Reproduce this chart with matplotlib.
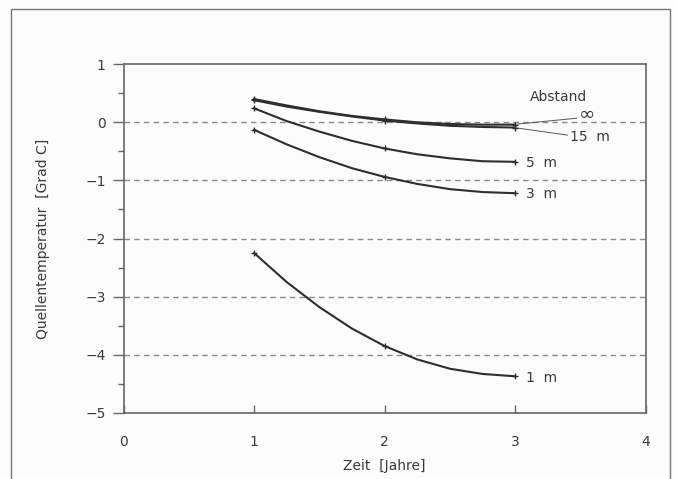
import numpy as np
import matplotlib
matplotlib.use('Agg')
import matplotlib.pyplot as plt
from matplotlib.patches import Rectangle

# Zeit in Jahren (Ablesepunkte)
years = [1.0, 1.25, 1.5, 1.75, 2.0, 2.25, 2.5, 2.75, 3.0]

# Quellentemperatur [Grad C] je Abstand
temp_inf = [0.40, 0.29, 0.19, 0.11, 0.05, 0.00, -0.03, -0.04, -0.04]
temp_15m = [0.38, 0.27, 0.18, 0.10, 0.03, -0.02, -0.06, -0.08, -0.09]
temp_5m = [0.24, 0.02, -0.16, -0.32, -0.45, -0.55, -0.62, -0.67, -0.68]
temp_3m = [-0.13, -0.38, -0.60, -0.79, -0.94, -1.06, -1.15, -1.20, -1.22]
temp_1m = [-2.25, -2.75, -3.18, -3.55, -3.85, -4.08, -4.24, -4.33, -4.37]

series = [temp_inf, temp_15m, temp_5m, temp_3m, temp_1m]

xticks = [0, 1, 2, 3, 4]
yticks = [1, 0, -1, -2, -3, -4, -5]
grid_levels = [0, -1, -2, -3, -4]

txt = '#3a3a3a'
linec = '#2e2e2e'

fig = plt.figure(figsize=(6.76, 4.79), dpi=100)
fig.patch.set_facecolor('#fcfcfa')

# outer frame of the figure
fig.patches.append(Rectangle((11 / 676, -0.02), 659 / 676, 1 - 9 / 479 + 0.02,
                             transform=fig.transFigure, fill=False,
                             edgecolor='#777777', linewidth=1.0))

ax = fig.add_axes([0.183, 0.138, 0.772, 0.728])
ax.set_facecolor('#fcfcfa')

for lev in grid_levels:
    ax.axhline(lev, color='#8a8a8a', linewidth=1.0, linestyle=(0, (4, 3)), zorder=1)

# markers only at whole years
mark_idx = [0, 4, 8]
for s in series:
    ax.plot(years, s, color=linec, linewidth=1.5, marker='+', markersize=5,
            markeredgewidth=1.0, markevery=mark_idx, zorder=3)

ax.set_xlim(0, 4)
ax.set_ylim(-5, 1)
ax.set_xticks(xticks)
ax.set_yticks(yticks)
ax.set_yticks([0.5, -0.5, -1.5, -2.5, -3.5, -4.5], minor=True)
ax.set_xticklabels([str(v) for v in xticks])
ax.set_yticklabels([str(v).replace('-', '\u2212') for v in yticks])

ax.tick_params(axis='y', which='major', direction='out', length=8, width=1.0,
               colors='#666666', labelcolor=txt, labelsize=10, pad=5)
ax.tick_params(axis='y', which='minor', direction='out', length=4, width=1.0,
               colors='#666666')
ax.tick_params(axis='x', which='major', direction='in', length=6, width=1.0,
               colors='#666666', labelcolor=txt, labelsize=10, pad=16)

for sp in ax.spines.values():
    sp.set_color('#666666')
    sp.set_linewidth(1.2)

ax.set_xlabel('Zeit  [Jahre]', color=txt, fontsize=10, labelpad=7)
ax.set_ylabel('Quellentemperatur  [Grad C]', color=txt, fontsize=10, labelpad=25)

# labels for the curves
ax.text(3.33, 0.43, 'Abstand', color=txt, fontsize=10, ha='center', va='center')
ax.text(3.49, 0.13, '\u221e', color=txt, fontsize=14, ha='left', va='center')
ax.plot([3.02, 3.47], [-0.03, 0.07], color='#555555', linewidth=0.7)
ax.text(3.42, -0.26, '15  m', color=txt, fontsize=10, ha='left', va='center')
ax.plot([3.02, 3.40], [-0.10, -0.22], color='#555555', linewidth=0.7)
ax.text(3.08, -0.70, '5  m', color=txt, fontsize=10, ha='left', va='center')
ax.text(3.08, -1.24, '3  m', color=txt, fontsize=10, ha='left', va='center')
ax.text(3.08, -4.40, '1  m', color=txt, fontsize=10, ha='left', va='center')

fig.savefig('out.png', dpi=100, facecolor=fig.get_facecolor())
